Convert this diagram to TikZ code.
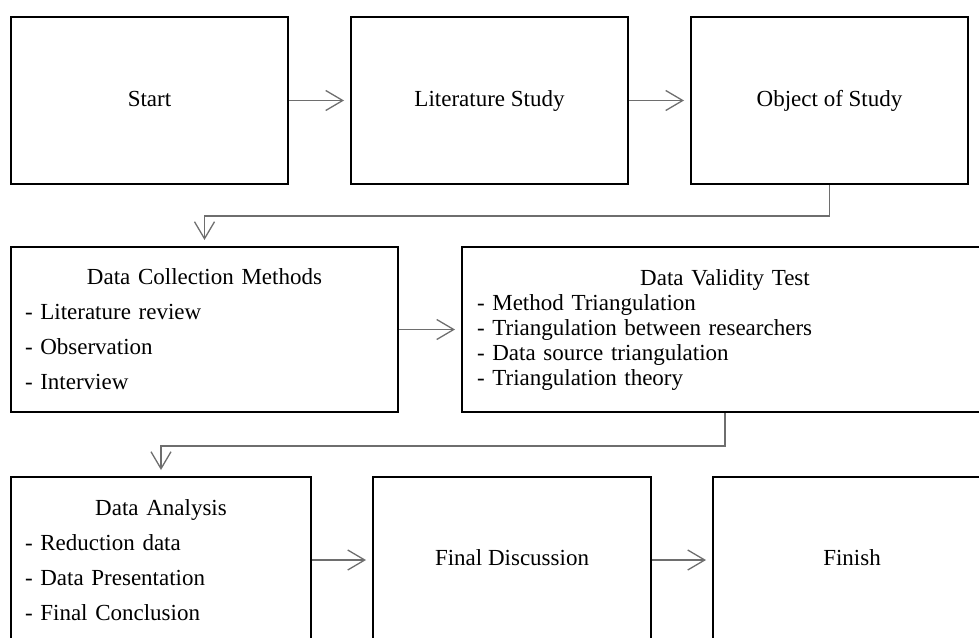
\documentclass[tikz,border=0pt]{standalone}
\usepackage{fontspec}
\setmainfont{Liberation Serif}
\usetikzlibrary{arrows.meta}
\definecolor{meucinza}{HTML}{6E6E6E}

\begin{document}
\begin{tikzpicture}[x=1pt,y=-1pt,
  caixa/.style={draw,line width=2pt,minimum width=277pt,minimum height=167pt,
    inner xsep=14pt,font=\fontsize{23}{35}\selectfont},
  unica/.style={caixa,text height=16pt,text depth=5pt},
  lista/.style={align=left,text width=#1},
  seta/.style={draw=meucinza,line width=1.3pt,
    -{Straight Barb[length=17pt,width=20pt]},shorten >=6pt}]
\useasboundingbox (0,0) rectangle (979,637);
\clip (0,0) rectangle (979,637);
\node[unica] (inicio) at (149.5,100.5) {Start};
\node[unica] (literatura) at (489.5,100.5) {Literature Study};
\node[unica] (objeto) at (829.5,100.5) {Object of Study};
\node[caixa,minimum width=387pt,minimum height=165pt,lista=359pt] (coleta) at (204.5,329.5)
  {{\centering Data Collection Methods\par}- Literature review\\- Observation\\- Interview};
\node[caixa,minimum width=526pt,minimum height=165pt,inner xsep=15pt,lista=496pt,
  font=\fontsize{23}{25}\selectfont] (validade) at (725,329.5)
  {{\centering Data Validity Test\par}- Method Triangulation\\- Triangulation between researchers\\
   - Data source triangulation\\- Triangulation theory};
\node[caixa,minimum width=300pt,minimum height=166pt,lista=272pt] (analise) at (161,560)
  {{\centering Data Analysis\par}- Reduction data\\- Data Presentation\\- Final Conclusion};
\node[unica,minimum width=278pt,minimum height=166pt] (discussao) at (512,560) {Final Discussion};
\node[unica,minimum width=278pt,minimum height=166pt] (fim) at (852,560) {Finish};
\draw[seta] (inicio) -- (literatura);
\draw[seta] (literatura) -- (objeto);
\draw[seta] (objeto.south) -- ++(0,31) -| (coleta.north);
\draw[seta] (coleta) -- (validade);
\draw[seta] (validade.south) -- ++(0,33) -| (analise.north);
\draw[seta] (analise) -- (discussao);
\draw[seta] (discussao) -- (fim);
\end{tikzpicture}
\end{document}
